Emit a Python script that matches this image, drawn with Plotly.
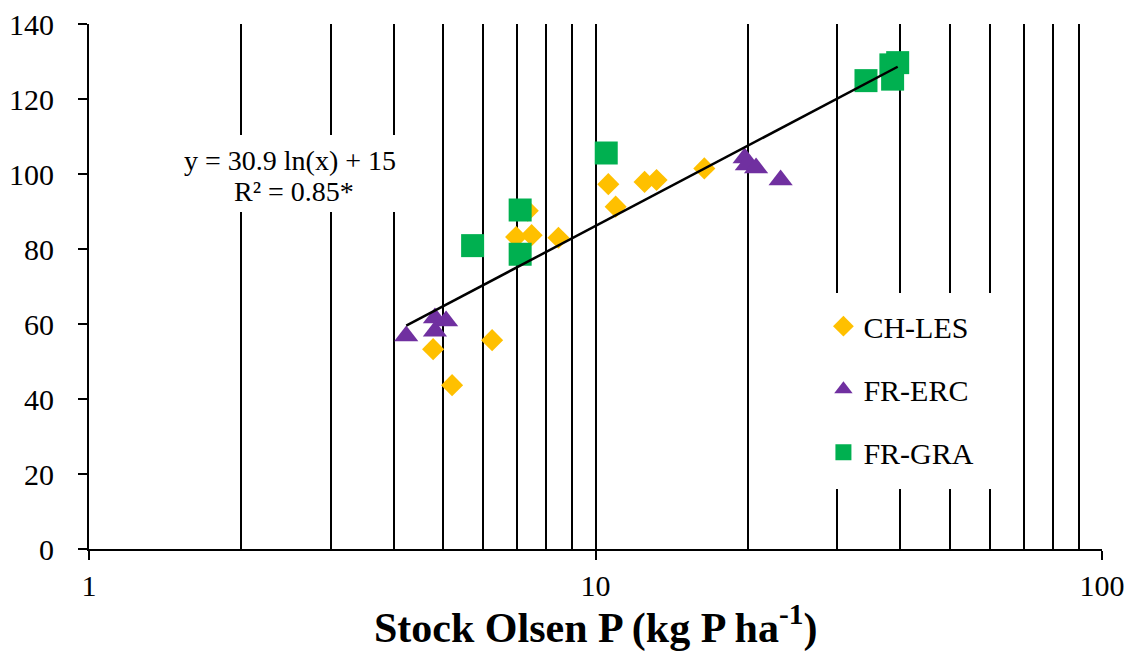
import plotly.graph_objects as go
import numpy as np

# ---- data ----
ch_les_x = [4.78, 5.21, 6.25, 6.97, 7.48, 7.35, 8.45, 10.6, 10.96, 12.5, 13.2, 16.4]
ch_les_y = [53.3, 43.7, 55.7, 83.2, 83.7, 90.2, 83.0, 97.3, 91.3, 97.9, 98.4, 101.5]

fr_erc_x = [4.23, 4.82, 4.82, 5.07, 19.7, 19.9, 20.75, 23.2]
fr_erc_y = [56.8, 61.6, 58.1, 60.8, 104.3, 102.4, 101.6, 98.4]

fr_gra_x = [5.72, 7.1, 7.1, 10.5, 34.2, 38.3, 38.6, 39.5]
fr_gra_y = [80.9, 90.4, 78.6, 105.6, 124.9, 129.1, 125.3, 129.7]

# trendline y = a ln(x) + b, drawn over the data range
trend_a = 30.9
trend_b = 15
trend_x = [4.23, 39.5]
trend_y = [trend_a * np.log(v) + trend_b for v in trend_x]

x_major = [1, 10, 100]
x_major_text = ["1", "10", "100"]
x_minor = [2, 3, 4, 5, 6, 7, 8, 9, 20, 30, 40, 50, 60, 70, 80, 90]

FONT = "Liberation Serif"

fig = go.Figure()
fig.add_trace(go.Scatter(x=ch_les_x, y=ch_les_y, mode="markers", name="CH-LES",
                         legendgroup="a",
                         marker=dict(symbol="diamond", size=17, color="#FFC000")))
fig.add_trace(go.Scatter(x=fr_erc_x, y=fr_erc_y, mode="markers", name="FR-ERC",
                         legendgroup="b",
                         marker=dict(symbol="triangle-up", size=21, color="#7030A0")))
fig.add_trace(go.Scatter(x=fr_gra_x, y=fr_gra_y, mode="markers", name="FR-GRA",
                         legendgroup="c",
                         marker=dict(symbol="square", size=23, color="#00B050")))
fig.add_trace(go.Scatter(x=trend_x, y=trend_y, mode="lines", showlegend=False,
                         line=dict(color="black", width=2.5)))

fig.update_layout(
    width=1133, height=653,
    margin=dict(l=89, r=31, t=24, b=104),
    paper_bgcolor="white", plot_bgcolor="white",
    font=dict(family=FONT, size=30, color="black"),
    legend=dict(x=0.725, y=0.474, xanchor="left", yanchor="top",
                bgcolor="rgba(0,0,0,0)", font=dict(size=30, family=FONT),
                tracegroupgap=21, itemwidth=30),
    xaxis=dict(type="log", range=[0, 2], tickmode="array", tickvals=x_major,
               ticktext=x_major_text, ticks="outside", ticklen=9, tickwidth=1.5,
               tickcolor="black", showline=True, linecolor="black", linewidth=2,
               showgrid=True, gridcolor="black", gridwidth=1.5,
               ticklabelstandoff=0, zeroline=False, automargin=False,
               tickfont=dict(family=FONT, size=30),
               minor=dict(tickmode="array", tickvals=x_minor, showgrid=True,
                          gridcolor="black", gridwidth=1.5, ticks="")),
    yaxis=dict(range=[0, 140], dtick=20, ticks="outside", ticklen=9, tickwidth=1.5,
               tickcolor="black", showline=True, linecolor="black", linewidth=2,
               showgrid=False, zeroline=False, ticklabelstandoff=18, automargin=False,
               tickfont=dict(family=FONT, size=30)),
    shapes=[
        dict(type="rect", xref="paper", yref="paper", layer="above",
             x0=(170 - 89) / 1013, x1=(412 - 89) / 1013,
             y0=(549 - 212) / 525, y1=(549 - 135) / 525,
             fillcolor="white", line=dict(width=0)),
        dict(type="rect", xref="paper", yref="paper", layer="above",
             x0=(828 - 89) / 1013, x1=(1008 - 89) / 1013,
             y0=(549 - 489) / 525, y1=(549 - 293) / 525,
             fillcolor="white", line=dict(width=0)),
    ],
    annotations=[
        dict(text="y = 30.9 ln(x) + 15", xref="paper", yref="paper",
             x=(290 - 89) / 1013, y=(549 - 160) / 525, showarrow=False,
             xanchor="center", yanchor="middle", font=dict(size=28, family=FONT)),
        dict(text="R² = 0.85*", xref="paper", yref="paper",
             x=(294 - 89) / 1013, y=(549 - 191) / 525, showarrow=False,
             xanchor="center", yanchor="middle", font=dict(size=28, family=FONT)),
        dict(text="<b>Stock Olsen P (kg P ha<sup>-1</sup>)</b>", xref="paper", yref="paper",
             x=0.5, y=(549 - 625) / 525, showarrow=False,
             xanchor="center", yanchor="middle", font=dict(size=42, family=FONT)),
    ],
)

fig.write_html("out.html", config={"displayModeBar": False},
               post_script="document.body.style.margin='0';")
